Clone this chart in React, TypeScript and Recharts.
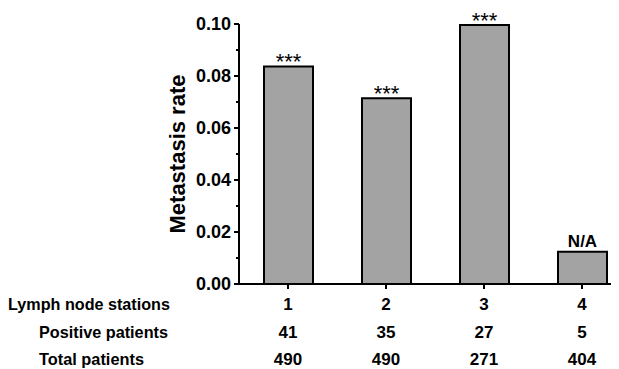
import React from 'react';
import { BarChart, Bar, XAxis, YAxis, LabelList } from 'recharts';

const stations = ['1', '2', '3', '4'];
const positivePatients = [41, 35, 27, 5];
const totalPatients = [490, 490, 271, 404];
const metastasisRate = [0.0837, 0.0714, 0.0996, 0.0124];
const notes = ['***', '***', '***', 'N/A'];
const yTicks = [0, 0.01, 0.02, 0.03, 0.04, 0.05, 0.06, 0.07, 0.08, 0.09, 0.1];
const rowLabels = ['Lymph node stations', 'Positive patients', 'Total patients'];

const data = stations.map((s, i) => ({
  station: s,
  rate: metastasisRate[i],
  positive: positivePatients[i],
  total: totalPatients[i],
  note: notes[i],
}));

const FONT = 'Arial, "Liberation Sans", Helvetica, sans-serif';

function YTick(props: any) {
  const { x, y, payload, index } = props;
  const major = index % 2 === 0;
  const ax = x + 8;
  return (
    <g>
      <line x1={ax} x2={ax - (major ? 5 : 3)} y1={y} y2={y} stroke="#000" strokeWidth={2} />
      {major && (
        <text x={x} y={y} dy={6} textAnchor="end" fontFamily={FONT} fontWeight="bold" fontSize={18} fill="#000">
          {payload.value.toFixed(2)}
        </text>
      )}
    </g>
  );
}

function XTick(props: any) {
  const { x, y, index } = props;
  const d = data[index];
  const common = { fontFamily: FONT, fontWeight: 'bold', fontSize: 17, fill: '#000' } as const;
  const rowFont = { ...common, fontSize: 16.5 };
  return (
    <g>
      <text x={x} y={y + 19} textAnchor="middle" {...common}>{d.station}</text>
      <text x={x} y={y + 47} textAnchor="middle" {...common}>{d.positive}</text>
      <text x={x} y={y + 74} textAnchor="middle" {...common}>{d.total}</text>
      {index === 0 && (
        <g>
          <text x={8} y={y + 19} textAnchor="start" textLength={162} lengthAdjust="spacingAndGlyphs" {...rowFont}>
            {rowLabels[0]}
          </text>
          <text x={39} y={y + 47} textAnchor="start" textLength={129} lengthAdjust="spacingAndGlyphs" {...rowFont}>
            {rowLabels[1]}
          </text>
          <text x={39} y={y + 74} textAnchor="start" textLength={105} lengthAdjust="spacingAndGlyphs" {...rowFont}>
            {rowLabels[2]}
          </text>
        </g>
      )}
    </g>
  );
}

function NoteLabel(props: any) {
  const { x, y, width, value } = props;
  const stars = value === '***';
  return (
    <text
      x={x + width / 2}
      y={stars ? y + 3 : y - 5}
      textAnchor="middle"
      fontFamily={FONT}
      fontWeight={stars ? 'normal' : 'bold'}
      fontSize={stars ? 22 : 17}
      fill="#000"
    >
      {value}
    </text>
  );
}

export default function App() {
  return (
    <div style={{ width: 619, height: 361, overflow: 'hidden', marginLeft: -8 }}>
      <BarChart width={648} height={361} data={data} margin={{ top: 16, right: 17, left: 0, bottom: 0 }}>
        <XAxis
          dataKey="station"
          height={85}
          axisLine={{ stroke: '#000', strokeWidth: 2 }}
          tickLine={{ stroke: '#000', strokeWidth: 2 }}
          tickSize={5}
          tickMargin={2}
          interval={0}
          tick={<XTick />}
        />
        <YAxis
          width={239}
          domain={[0, 0.1]}
          ticks={yTicks}
          interval={0}
          axisLine={{ stroke: '#000', strokeWidth: 2 }}
          tickLine={false}
          tickSize={5}
          tickMargin={3}
          tick={<YTick />}
          label={{
            content: ({ viewBox }: any) => {
              const cx = viewBox.x + viewBox.width - 62;
              const cy = viewBox.y + viewBox.height / 2;
              return (
                <text
                  x={cx}
                  y={cy}
                  transform={`rotate(-90, ${cx}, ${cy})`}
                  textAnchor="middle"
                  dominantBaseline="central"
                  fontFamily={FONT}
                  fontWeight="bold"
                  fontSize={22}
                  fill="#000"
                >
                  Metastasis rate
                </text>
              );
            },
          }}
        />
        <Bar dataKey="rate" barSize={49} fill="#a3a3a3" stroke="#000" strokeWidth={2} isAnimationActive={false}>
          <LabelList dataKey="note" content={<NoteLabel />} />
        </Bar>
      </BarChart>
    </div>
  );
}
